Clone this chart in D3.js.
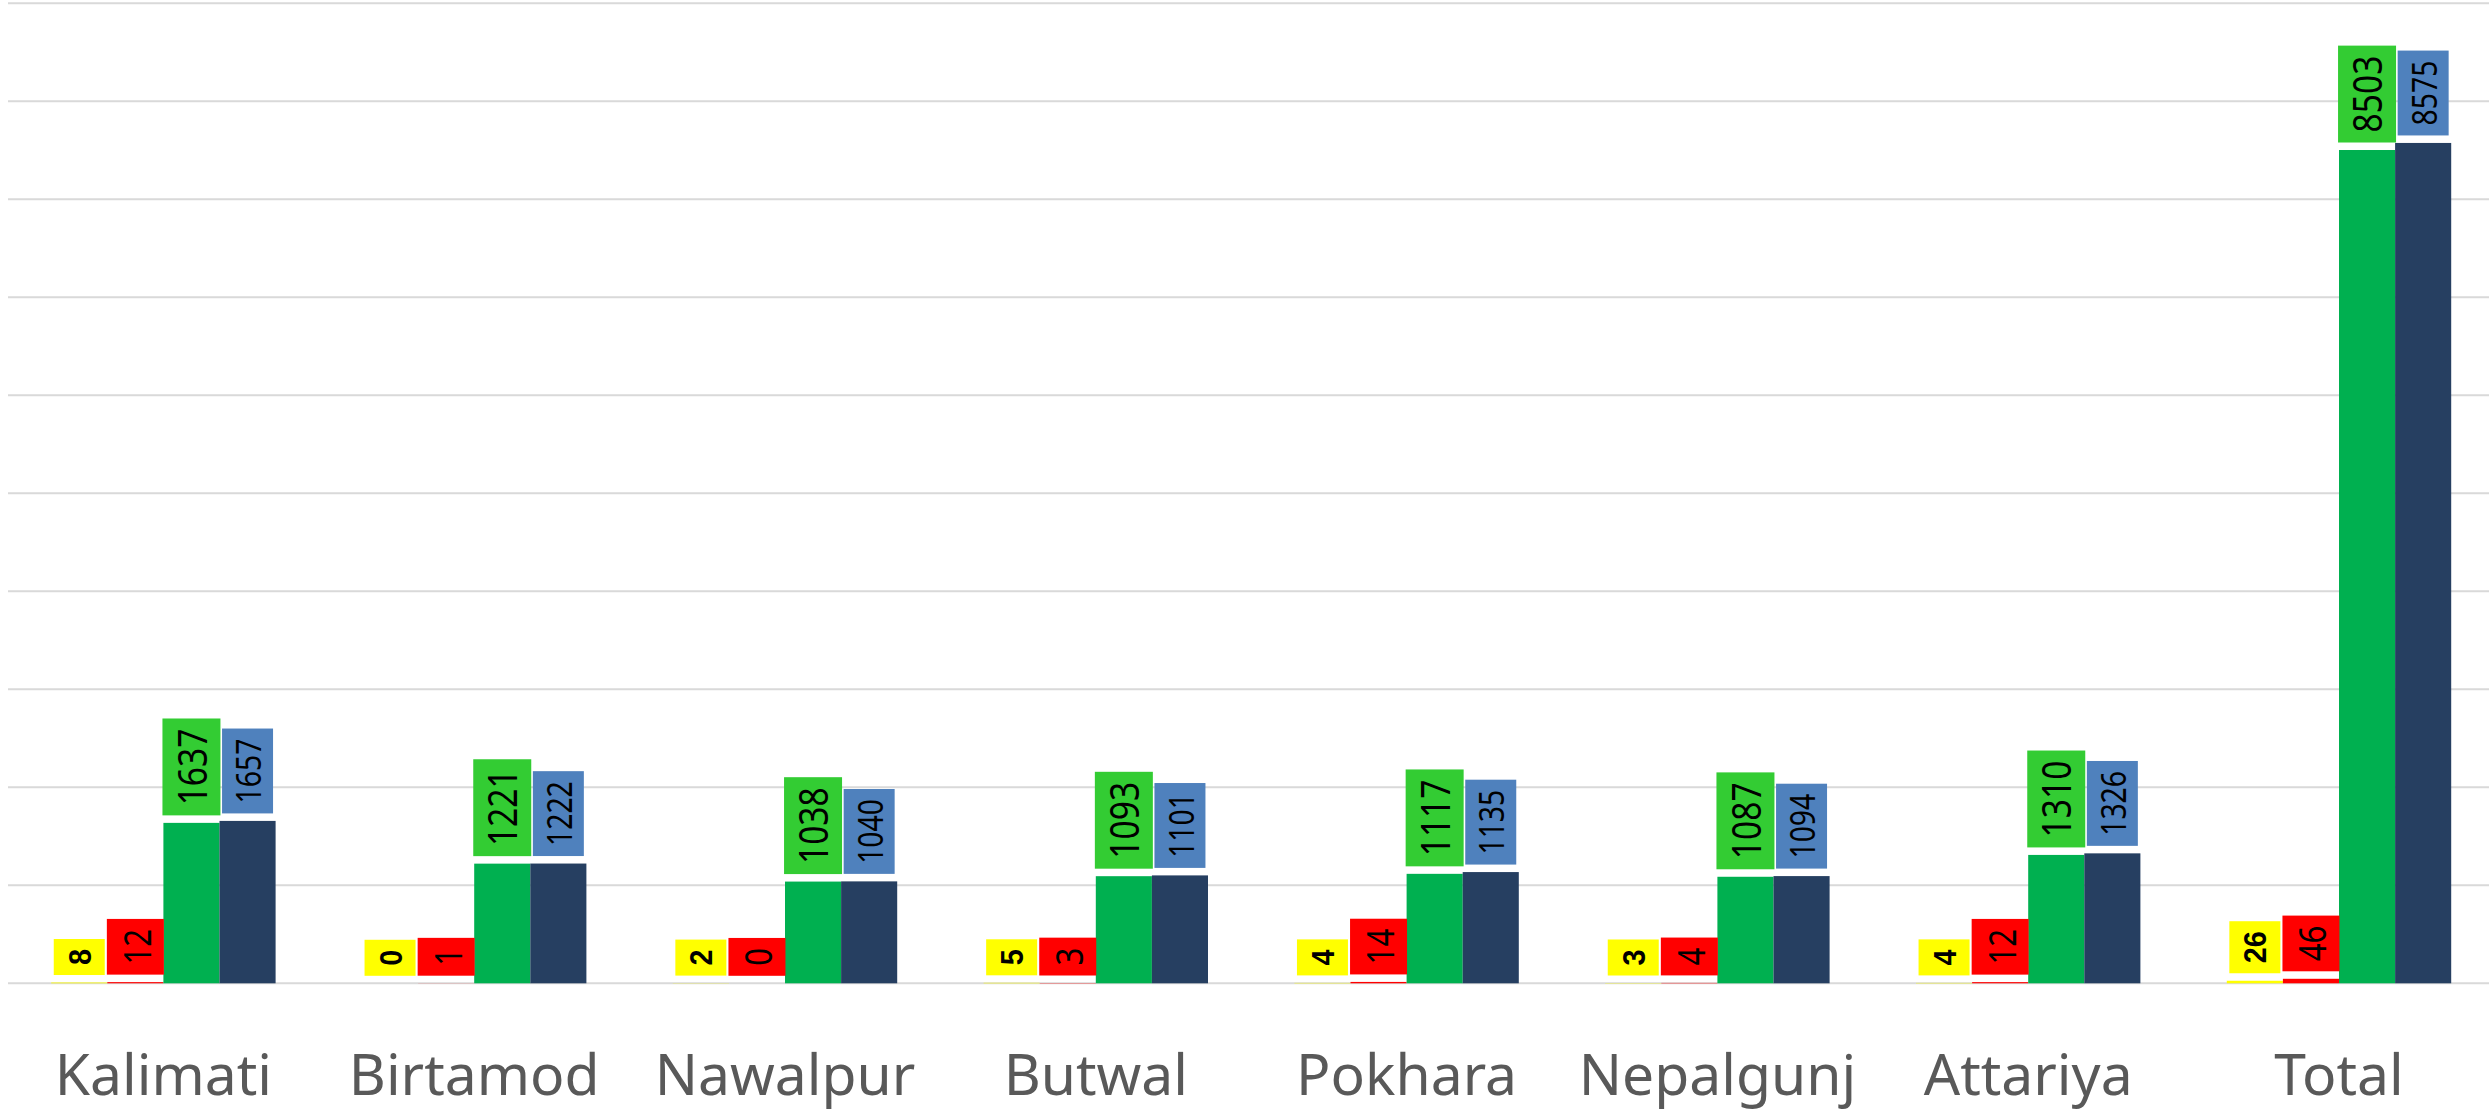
<!DOCTYPE html>
<html>
<head>
<meta charset="utf-8">
<script src="https://cdn.jsdelivr.net/npm/d3@7"></script>
<style>
  html, body { margin: 0; padding: 0; background: #fff; }
  svg { display: block; }
</style>
</head>
<body>
<div id="chart"></div>
<script>
// data
const categories = ['Kalimati', 'Birtamod', 'Nawalpur', 'Butwal', 'Pokhara', 'Nepalgunj', 'Attariya', 'Total'];
const seriesKeys = ['yellow', 'red', 'green', 'navy'];
const yellowValues = [8, 0, 2, 5, 4, 3, 4, 26];
const redValues = [12, 1, 0, 3, 14, 4, 12, 46];
const greenValues = [1637, 1221, 1038, 1093, 1117, 1087, 1310, 8503];
const navyValues = [1657, 1222, 1040, 1101, 1135, 1094, 1326, 8575];
const yTicks = [0, 1000, 2000, 3000, 4000, 5000, 6000, 7000, 8000, 9000, 10000];

const values = { yellow: yellowValues, red: redValues, green: greenValues, navy: navyValues };

const barColor = { yellow: '#FFFF00', red: '#FF0000', green: '#00B050', navy: '#263F61' };
const boxColor = { yellow: '#FFFF00', red: '#FF0000', green: '#33CC33', navy: '#4F81BD' };
// sx squeezes the text along its length (the original font is narrower)
const labelFont = {
  yellow: { size: 32, weight: 'bold', family: '"Liberation Sans", Arial, sans-serif', w: 51, sx: 0.9 },
  red: { size: 39, weight: 'normal', family: '"Noto Sans", sans-serif', w: 57, sx: 0.8 },
  green: { size: 40, weight: 'normal', family: '"Noto Sans", sans-serif', w: 58, sx: 0.84 },
  navy: { size: 35, weight: 'normal', family: '"Noto Sans", sans-serif', w: 51, sx: 0.81 }
};

const width = 2489, height = 1111;
const plot = { l: 8, r: 2494.4, t: 3.3, b: 983.3 };

const svg = d3.select('#chart').append('svg')
  .attr('width', width)
  .attr('height', height);

const x0 = d3.scaleBand()
  .domain(categories)
  .range([plot.l, plot.r])
  .padding(0);

const groupW = 224.4;
const x1 = d3.scaleBand()
  .domain(seriesKeys)
  .range([(x0.bandwidth() - groupW) / 2, (x0.bandwidth() + groupW) / 2]);

const y = d3.scaleLinear()
  .domain([0, 10000])
  .range([plot.b, plot.t]);

// gridlines
svg.append('g')
  .selectAll('line')
  .data(yTicks)
  .enter()
  .append('line')
  .attr('x1', plot.l)
  .attr('x2', width)
  .attr('y1', d => y(d))
  .attr('y2', d => y(d))
  .style('stroke', '#D9D9D9')
  .style('stroke-width', 2);

const groups = svg.append('g')
  .selectAll('g')
  .data(categories)
  .enter()
  .append('g')
  .attr('transform', d => `translate(${x0(d)},0)`);

// bars
groups.selectAll('rect.bar')
  .data((d, i) => seriesKeys.map(k => ({ key: k, value: values[k][i] })))
  .enter()
  .append('rect')
  .attr('class', 'bar')
  .attr('x', d => x1(d.key))
  .attr('width', x1.bandwidth())
  .attr('y', d => y(d.value))
  .attr('height', d => y(0) - y(d.value))
  .style('fill', d => barColor[d.key]);

// data labels: rotated text in coloured boxes above bar end
const labels = groups.selectAll('g.lbl')
  .data((d, i) => seriesKeys.map(k => ({ key: k, value: values[k][i] })))
  .enter()
  .append('g')
  .attr('class', 'lbl');

labels.each(function(d) {
  const g = d3.select(this);
  const f = labelFont[d.key];
  const cx = x1(d.key) + x1.bandwidth() / 2;
  const box = g.append('rect').style('fill', boxColor[d.key]);
  const txt = g.append('text')
    .text(d.value)
    .style('font-family', f.family)
    .style('font-size', f.size + 'px')
    .style('font-weight', f.weight)
    .style('fill', '#000')
    .attr('text-anchor', 'middle')
    .attr('dominant-baseline', 'central');
  const len = txt.node().getComputedTextLength() * f.sx;
  const boxH = len + 20;
  const bottom = y(d.value) - 7.5;
  const cy = bottom - boxH / 2;
  box.attr('x', cx - f.w / 2)
    .attr('width', f.w)
    .attr('y', bottom - boxH)
    .attr('height', boxH);
  txt.attr('transform', `translate(${cx},${cy}) rotate(-90) scale(${f.sx},1)`);
});

// category labels
svg.append('g')
  .selectAll('text')
  .data(categories)
  .enter()
  .append('text')
  .attr('x', d => x0(d) + x0.bandwidth() / 2)
  .attr('y', 1095)
  .attr('text-anchor', 'middle')
  .style('font-family', '"Noto Sans", sans-serif')
  .style('font-size', '57px')
  .style('fill', '#595959')
  .text(d => d);
</script>
</body>
</html>
